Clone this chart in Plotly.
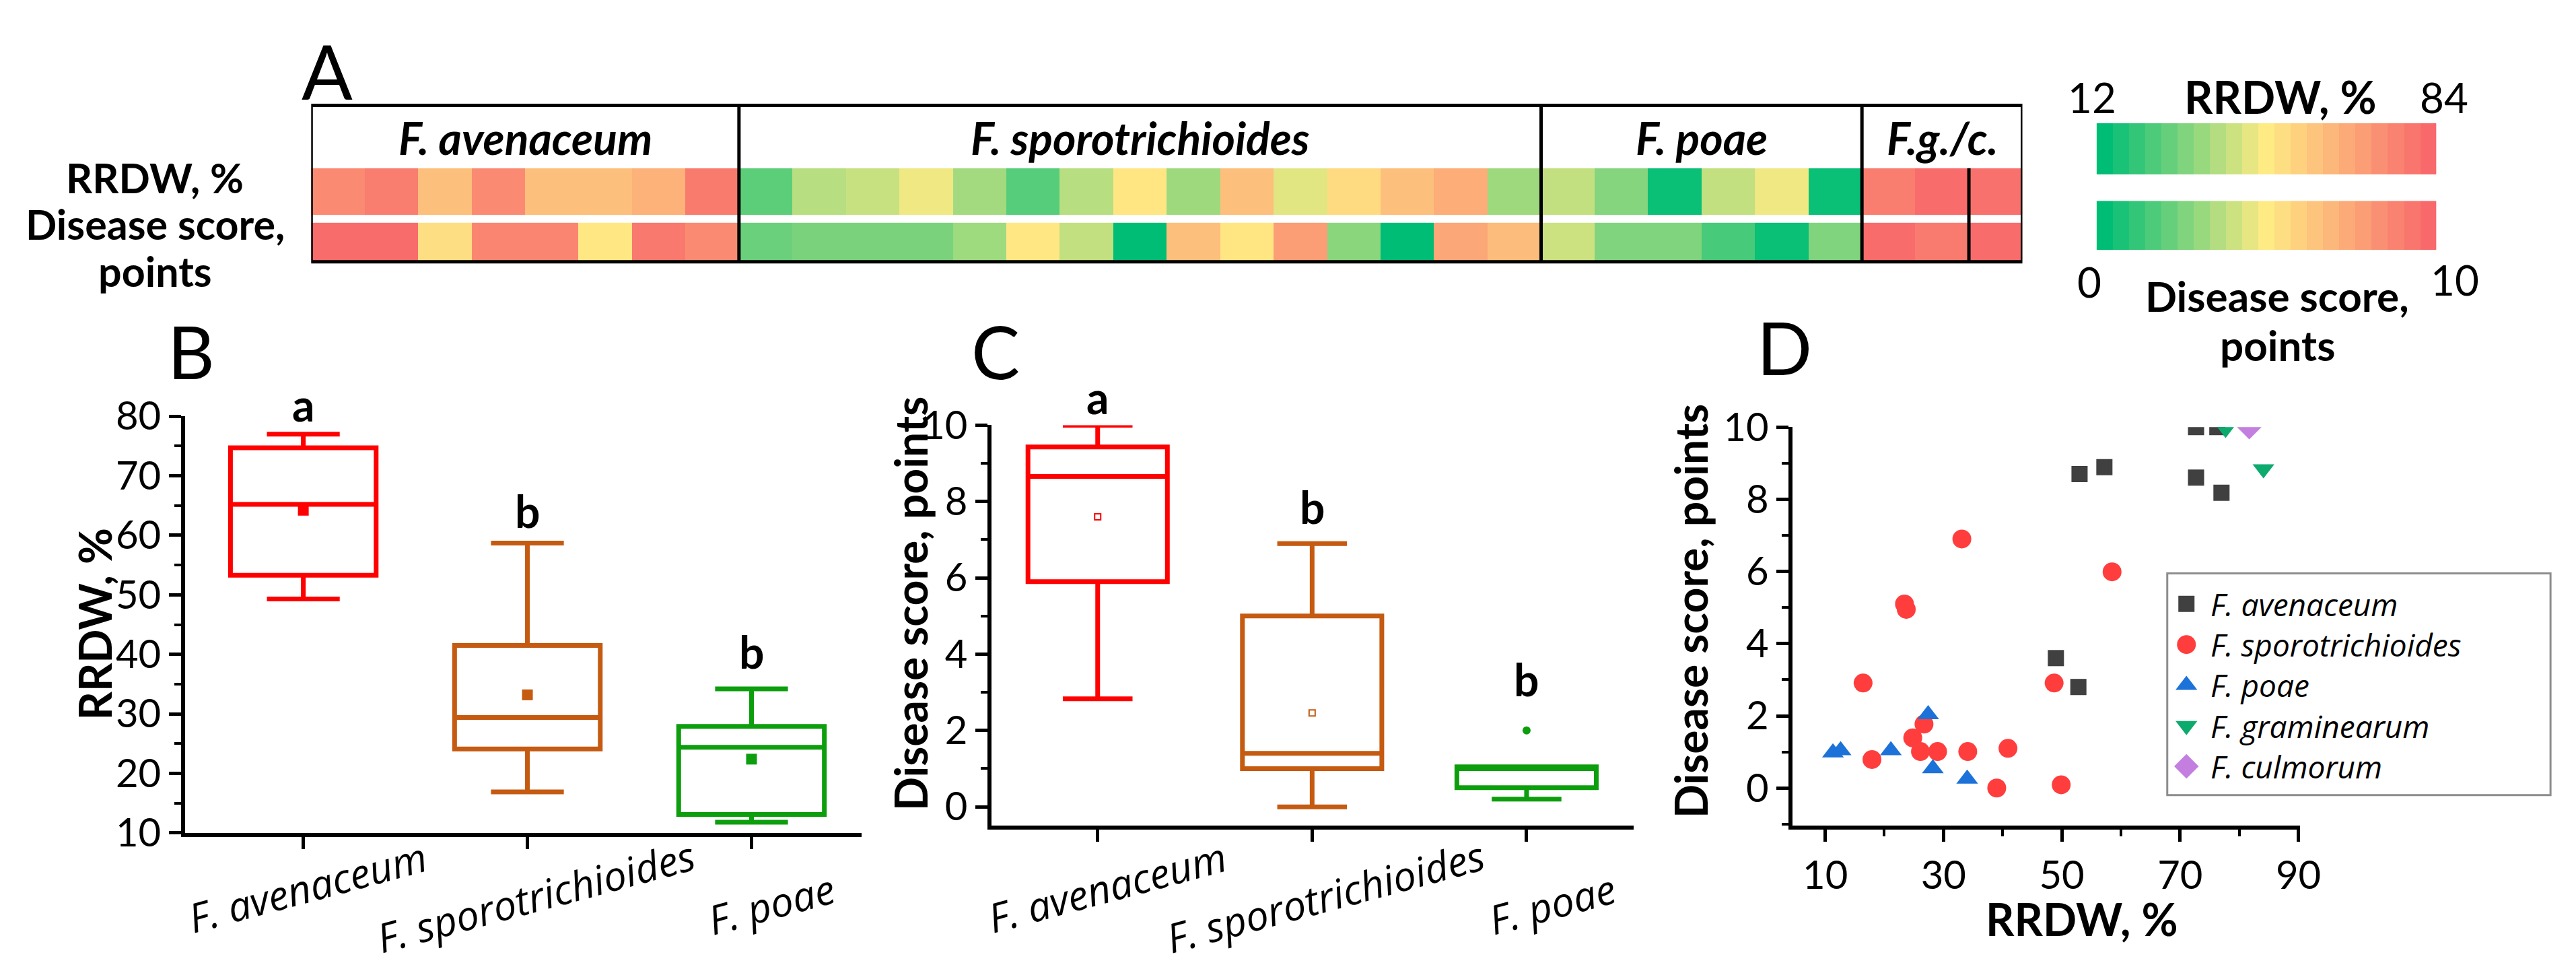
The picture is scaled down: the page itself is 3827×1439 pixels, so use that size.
import plotly.graph_objects as go

W, H = 3827, 1439

# ---------------- data ----------------
groups = ["F. avenaceum", "F. sporotrichioides", "F. poae", "F.g./c."]
group_sizes = [8, 15, 6, 3]

heat_rrdw = [74.6, 78.2, 60.2, 74.6, 60.2, 60.2, 63.8, 79.0,
             25.0, 37.9, 40.1, 45.8, 35.0, 24.2, 37.9, 49.4, 34.3, 60.2, 43.7, 52.3, 60.2, 65.3, 34.3,
             39.4, 30.7, 13.4, 39.4, 45.8, 13.4,
             78.2, 83.3, 81.8]
heat_score = [9.9, 9.9, 5.5, 8.9, 8.9, 5.1, 9.4, 8.7,
              2.1, 2.4, 2.4, 2.4, 3.1, 5.1, 3.8, 0.0, 6.7, 5.2, 8.0, 2.7, 0.0, 7.6, 6.8,
              4.0, 2.5, 2.5, 1.4, 0.2, 2.5,
              9.9, 9.3, 9.9]
rrdw_range = [12, 84]
score_range = [0, 10]
legend_steps = list(range(21))

# box plots (panels B, C)
box_species = ["F. avenaceum", "F. sporotrichioides", "F. poae"]
box_colors = ["#FF0000", "#C55A11", "#0C9E0C"]

rrdw_lower = [49.3, 16.9, 11.8]
rrdw_q1 = [53.3, 24.1, 13.1]
rrdw_median = [65.2, 29.4, 24.4]
rrdw_q3 = [74.7, 41.5, 27.9]
rrdw_upper = [77.0, 58.7, 34.2]
rrdw_mean = [64.2, 33.2, 22.4]
rrdw_letters = ["a", "b", "b"]

score_lower = [2.83, 0.0, 0.2]
score_q1 = [5.9, 1.0, 0.5]
score_median = [8.66, 1.4, 1.0]
score_q3 = [9.43, 5.0, 1.05]
score_upper = [10.0, 6.9, 1.05]
score_mean = [7.6, 2.46]
score_outlier_poae = [2.0]
score_letters = ["a", "b", "b"]

# scatter (panel D)
aven_x = [72.7, 76.3, 53.0, 57.2, 72.7, 77.0, 49.0, 52.8]
aven_y = [10.0, 10.0, 8.70, 8.89, 8.60, 8.18, 3.60, 2.80]
spor_x = [16.4, 17.9, 23.4, 23.7, 24.8, 26.7, 26.1, 29.0, 33.1, 34.1, 39.0, 40.9, 48.7, 49.9, 58.5]
spor_y = [2.91, 0.79, 5.10, 4.95, 1.39, 1.77, 1.01, 1.01, 6.90, 1.01, 0.0, 1.10, 2.91, 0.09, 5.99]
poae_x = [11.3, 12.6, 21.1, 27.4, 28.2, 34.0]
poae_y = [0.98, 1.04, 1.04, 2.04, 0.54, 0.25]
gram_x = [77.7, 84.1]
gram_y = [9.96, 8.84]
culm_x = [81.7]
culm_y = [10.0]

scatter_series = [
    ("F. avenaceum", aven_x, aven_y, "square", "#404040", 24),
    ("F. sporotrichioides", spor_x, spor_y, "circle", "#FF3D3D", 28),
    ("F. poae", poae_x, poae_y, "triangle-up", "#1C72D8", 28),
    ("F. graminearum", gram_x, gram_y, "triangle-down", "#0DAA6E", 28),
    ("F. culmorum", culm_x, culm_y, "diamond", "#C47EE0", 28),
]

# ---------------- helpers ----------------
FONT = "Lato"
ITALIC_FONT = "Open Sans"


def fx(px):
    return px / W


def fy(py):
    return 1 - py / H


colorscale = [[0.0, "rgb(0,189,117)"], [0.5, "rgb(255,235,132)"], [1.0, "rgb(248,105,107)"]]

fig = go.Figure()
annotations = []
shapes = []


def ann(text, x, y, size, xref="paper", yref="paper", bold=False, italic=False,
        xanchor="center", yanchor="middle", angle=0, family=FONT, color="black", **kw):
    t = text
    if italic:
        t = "<i>" + t + "</i>"
    if bold:
        t = "<b>" + t + "</b>"
    annotations.append(dict(text=t, x=x, y=y, xref=xref, yref=yref, showarrow=False,
                            xanchor=xanchor, yanchor=yanchor, textangle=angle,
                            font=dict(family=family, size=size, color=color), **kw))


ncells = sum(group_sizes)
cells = list(range(ncells))

# ---------------- panel A heatmap ----------------
fig.add_trace(go.Heatmap(z=[heat_rrdw], x=cells, xaxis="x", yaxis="y", colorscale=colorscale,
                         zmin=rrdw_range[0], zmax=rrdw_range[1], showscale=False, hoverinfo="skip"))
fig.add_trace(go.Heatmap(z=[heat_score], x=cells, xaxis="x", yaxis="y2", colorscale=colorscale,
                         zmin=score_range[0], zmax=score_range[1], showscale=False, hoverinfo="skip"))

# colour legend strips
fig.add_trace(go.Heatmap(z=[legend_steps], x=legend_steps, xaxis="x3", yaxis="y3", colorscale=colorscale,
                         zmin=0, zmax=len(legend_steps) - 1, showscale=False, hoverinfo="skip"))
fig.add_trace(go.Heatmap(z=[legend_steps], x=legend_steps, xaxis="x3", yaxis="y4", colorscale=colorscale,
                         zmin=0, zmax=len(legend_steps) - 1, showscale=False, hoverinfo="skip"))

# borders and group dividers
shapes.append(dict(type="rect", xref="x", yref="paper", x0=-0.5, x1=ncells - 0.5,
                   y0=fy(361), y1=fy(117), line=dict(color="black", width=5)))
edge = 0
for i, n in enumerate(group_sizes):
    centre = edge + (n - 1) / 2
    ann(groups[i], centre, fy(168), 66, xref="x", bold=True, italic=True)
    edge += n
    if i < len(group_sizes) - 1:
        shapes.append(dict(type="line", xref="x", yref="paper", x0=edge - 0.5, x1=edge - 0.5,
                           y0=fy(361), y1=fy(117), line=dict(color="black", width=5)))
shapes.append(dict(type="line", xref="x", yref="paper", x0=ncells - 1.5, x1=ncells - 1.5,
                   y0=fy(361), y1=fy(215), line=dict(color="black", width=5)))

ann("A", fx(482), fy(63), 112)
ann("RRDW, %", fx(224), fy(229), 61, bold=True)
ann("Disease score,", fx(224), fy(302), 61, bold=True)
ann("points", fx(224), fy(376), 61, bold=True)

ann(str(rrdw_range[0]), fx(3125), fy(104), 62)
ann("RRDW, %", fx(3408), fy(103), 66, bold=True)
ann(str(rrdw_range[1]), fx(3653), fy(104), 62)
ann(str(score_range[0]), fx(3121), fy(392), 62)
ann(str(score_range[1]), fx(3669), fy(389), 62)
ann("Disease score,", fx(3403), fy(414), 62, bold=True)
ann("points", fx(3403), fy(491), 62, bold=True)

# ---------------- panels B and C (box plots) ----------------
def add_boxes(xa, ya, lower, q1, med, q3, upper):
    for i in range(len(box_species)):
        fig.add_trace(go.Box(x=[i], lowerfence=[lower[i]], q1=[q1[i]], median=[med[i]], q3=[q3[i]],
                             upperfence=[upper[i]], xaxis=xa, yaxis=ya, width=0.65, whiskerwidth=0.5,
                             line=dict(color=box_colors[i], width=7), fillcolor="rgba(0,0,0,0)",
                             boxpoints=False, hoverinfo="skip", showlegend=False))


add_boxes("x5", "y5", rrdw_lower, rrdw_q1, rrdw_median, rrdw_q3, rrdw_upper)
fig.add_trace(go.Scatter(x=list(range(len(rrdw_mean))), y=rrdw_mean, xaxis="x5", yaxis="y5", mode="markers",
                         marker=dict(symbol="square", size=16, color=box_colors), hoverinfo="skip"))

add_boxes("x6", "y6", score_lower, score_q1, score_median, score_q3, score_upper)
fig.add_trace(go.Scatter(x=list(range(len(score_mean))), y=score_mean, xaxis="x6", yaxis="y6", mode="markers",
                         marker=dict(symbol="square-open", size=9, color=box_colors[:2], line=dict(width=2)),
                         hoverinfo="skip"))
fig.add_trace(go.Scatter(x=[2] * len(score_outlier_poae), y=score_outlier_poae, xaxis="x6", yaxis="y6",
                         mode="markers", marker=dict(symbol="circle", size=12, color=box_colors[2]),
                         hoverinfo="skip"))

label_y = [1336, 1351, 1362]
label_dx = [6, 12, 30]
for i, sp in enumerate(box_species):
    ann(sp, i, fy(label_y[i]), 60, xref="x5", italic=True, angle=-15, xshift=label_dx[i],
        family=ITALIC_FONT)
    ann(sp, i, fy(label_y[i]), 60, xref="x6", italic=True, angle=-15, xshift=label_dx[i] + 8,
        family=ITALIC_FONT)

# significance letters (pixel rows)
rrdw_letter_py = [584, 749, 969]
score_letter_py = [572, 743, 1012]
for i in range(3):
    ann(rrdw_letters[i], i, fy(rrdw_letter_py[i]), 66, xref="x5", bold=True)
    ann(score_letters[i], i, fy(score_letter_py[i]), 66, xref="x6", bold=True)

ann("B", fx(278), fy(500), 108)
ann("C", fx(1483), fy(500), 108)
ann("D", fx(2665), fy(494), 108)

ann("RRDW, %", fx(134), fy(926), 66, bold=True, angle=-90)
ann("Disease score, points", fx(1355), fy(895), 66, bold=True, angle=-90)
ann("Disease score, points", fx(2524), fy(906), 66, bold=True, angle=-90)
ann("RRDW, %", fx(3110), fy(1386), 66, bold=True)

# ---------------- panel D scatter ----------------
for name, xs, ys, sym, col, size in scatter_series:
    fig.add_trace(go.Scatter(x=xs, y=ys, xaxis="x7", yaxis="y7", mode="markers", name=name,
                             marker=dict(symbol=sym, size=size, color=col), hoverinfo="skip"))

# custom legend drawn in its own small axes
n_items = len(scatter_series)
item_y = [0.862 - k * 0.183 for k in range(n_items)]
for k, (name, xs, ys, sym, col, size) in enumerate(scatter_series):
    fig.add_trace(go.Scatter(x=[0.05], y=[item_y[k]], xaxis="x8", yaxis="y8", mode="markers",
                             marker=dict(symbol=sym, size=size, color=col), hoverinfo="skip"))
    ann(name, 0.11, item_y[k], 46, xref="x8", yref="y8", italic=True, xanchor="left", family=ITALIC_FONT)
shapes.append(dict(type="rect", xref="x8 domain", yref="y8 domain", x0=0, x1=1, y0=0, y1=1,
                   line=dict(color="#8C8C8C", width=3)))

# ---------------- axes ----------------
hidden = dict(visible=False, showgrid=False, zeroline=False, fixedrange=True)
tickfont = dict(family=FONT, size=58, color="black")


def ax_style(**kw):
    d = dict(showline=True, linecolor="black", linewidth=6, ticks="outside", ticklen=18, tickwidth=5,
             tickcolor="black", showgrid=False, zeroline=False, tickfont=tickfont, mirror=False)
    d.update(kw)
    return d


fig.update_layout(
    width=W, height=H, margin=dict(l=0, r=0, t=0, b=0),
    paper_bgcolor="white", plot_bgcolor="white", showlegend=False, boxmode="overlay",
    xaxis=dict(domain=[fx(458), fx(3021)], range=[-0.5, ncells - 0.5], anchor="y", **hidden),
    yaxis=dict(domain=[fy(288), fy(215)], range=[-0.5, 0.5], anchor="x", **hidden),
    yaxis2=dict(domain=[fy(361), fy(300)], range=[-0.5, 0.5], anchor="x", **hidden),
    xaxis3=dict(domain=[fx(3132), fx(3641)], range=[-0.5, len(legend_steps) - 0.5], anchor="y3", **hidden),
    yaxis3=dict(domain=[fy(225), fy(145)], range=[-0.5, 0.5], anchor="x3", **hidden),
    yaxis4=dict(domain=[fy(343), fy(266)], range=[-0.5, 0.5], anchor="x3", **hidden),
    xaxis5=ax_style(domain=[fx(269), fx(1282)], range=[-0.528, 2.49], anchor="y5",
                    tickvals=[0, 1, 2], showticklabels=False),
    yaxis5=ax_style(domain=[fy(1252), fy(602)], range=[10, 80], anchor="x5", dtick=10, tick0=0,
                    minor=dict(dtick=5, ticks="outside", ticklen=10, tickwidth=4, tickcolor="black")),
    xaxis6=ax_style(domain=[fx(1477), fx(2439)], range=[-0.495, 2.5], anchor="y6",
                    tickvals=[0, 1, 2], showticklabels=False),
    yaxis6=ax_style(domain=[fy(1241), fy(616)], range=[-0.5, 10], anchor="x6", dtick=2, tick0=0,
                    minor=dict(dtick=1, ticks="outside", ticklen=10, tickwidth=4, tickcolor="black")),
    xaxis7=ax_style(domain=[fx(2677), fx(3437)], range=[4.5, 90.3], anchor="y7", dtick=20, tick0=10,
                    minor=dict(dtick=10, tick0=0, ticks="outside", ticklen=10, tickwidth=4, tickcolor="black")),
    yaxis7=ax_style(domain=[fy(1241), fy(619)], range=[-1.05, 10], anchor="x7", dtick=2, tick0=0,
                    minor=dict(dtick=1, ticks="outside", ticklen=10, tickwidth=4, tickcolor="black")),
    xaxis8=dict(domain=[fx(3238), fx(3812)], range=[0, 1], anchor="y8", **hidden),
    yaxis8=dict(domain=[fy(1193), fy(847)], range=[0, 1], anchor="x8", **hidden),
    annotations=annotations, shapes=shapes,
)

fig.write_html("out.html")
